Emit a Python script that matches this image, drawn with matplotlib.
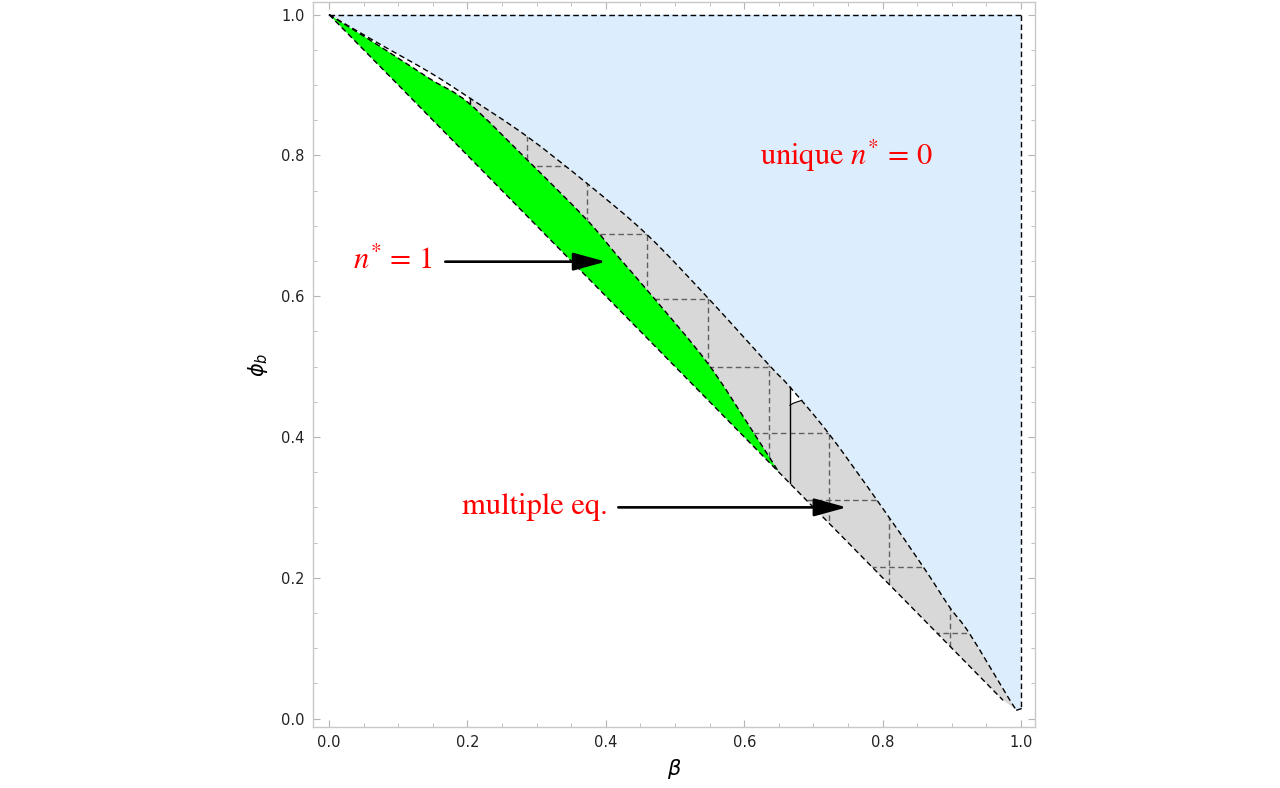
import numpy as np
import matplotlib
matplotlib.use("Agg")
import matplotlib.pyplot as plt
from matplotlib.path import Path
from matplotlib.patches import PathPatch

# upper boundary of the grey band = lower edge of the blue region
upper_beta = [0.0, 0.070, 0.147, 0.204, 0.286, 0.373, 0.460, 0.548, 0.636,
              0.666, 0.722, 0.792, 0.859, 0.897, 0.926, 0.984, 0.994]
upper_phi = [1.0, 0.960, 0.917, 0.881, 0.827, 0.760, 0.687, 0.597, 0.502,
             0.471, 0.405, 0.310, 0.215, 0.158, 0.120, 0.026, 0.012]

# upper edge of the green lens (n* = 1)
green_beta = [0.0, 0.075, 0.147, 0.201, 0.286, 0.373, 0.417, 0.468, 0.547, 0.609, 0.650]
green_phi = [1.0, 0.954, 0.908, 0.875, 0.794, 0.708, 0.657, 0.599, 0.505, 0.413, 0.350]

# lower dashed boundary
lower_beta = [0.0, 0.356, 0.650, 0.811, 0.974]
lower_phi = [1.0, 0.644, 0.350, 0.189, 0.026]

# mesh lines inside the grey band
mesh_beta = [0.286, 0.373, 0.460, 0.548, 0.636, 0.723, 0.809, 0.897]
mesh_phi = [0.785, 0.689, 0.596, 0.500, 0.405, 0.310, 0.215, 0.121]

# short solid separators
sep_beta = [0.204, 0.666]
sep_top = [0.881, 0.471]
sep_bottom = [0.875, 0.334]

# small white notch next to the beta = 2/3 separator
notch_beta = [0.666, 0.666, 0.671, 0.683]
notch_phi = [0.471, 0.445, 0.448, 0.452]

# labels and arrows
label_text = [r'$n^{*}$ = 1', 'multiple eq.', r'unique $n^{*}$ = 0']
label_beta = [0.150, 0.403, 0.623]
label_phi = [0.638, 0.290, 0.786]
label_ha = ['right', 'right', 'left']
arrow_start = [(0.168, 0.649), (0.418, 0.300)]
arrow_end = [(0.400, 0.649), (0.748, 0.300)]

plt.rcParams['mathtext.fontset'] = 'stix'


def smooth_segments(xs, ys):
    """cubic bezier pieces through the points (catmull-rom), no extra data"""
    pts = np.column_stack([xs, ys]).astype(float)
    n = len(pts)
    verts = []
    for i in range(n - 1):
        p0 = pts[max(i - 1, 0)]
        p1 = pts[i]
        p2 = pts[i + 1]
        p3 = pts[min(i + 2, n - 1)]
        verts += [p1 + (p2 - p0) / 6.0, p2 - (p3 - p1) / 6.0, p2]
    return verts


def build_path(pieces, close=True):
    """pieces: list of (xs, ys, smooth)"""
    verts, codes = [], []
    for k, (xs, ys, smooth) in enumerate(pieces):
        first = (xs[0], ys[0])
        verts.append(first)
        codes.append(Path.MOVETO if k == 0 else Path.LINETO)
        if smooth and len(xs) > 2:
            seg = smooth_segments(xs, ys)
            verts += [tuple(v) for v in seg]
            codes += [Path.CURVE4] * len(seg)
        else:
            for x, y in zip(xs[1:], ys[1:]):
                verts.append((x, y))
                codes.append(Path.LINETO)
    if close:
        verts.append(verts[0])
        codes.append(Path.CLOSEPOLY)
    return Path(verts, codes)


fig = plt.figure(figsize=(12.8, 7.88), dpi=100)
ax = fig.add_axes([0.2443, 0.0774, 0.5643, 0.920])

BLUE = '#DCEDFD'
GREY = '#D8D8D8'
GREEN = '#00FF00'
dash = (0, (4, 2.5))

ub = np.array(upper_beta)
up = np.array(upper_phi)
gb = np.array(green_beta)
gp = np.array(green_phi)
lb = np.array(lower_beta)
lp = np.array(lower_phi)

# blue region: above the upper curve, inside the unit square
blue_path = build_path([([0.0, 1.0, 1.0], [1.0, 1.0, 0.014], False),
                        (ub[::-1], up[::-1], True)])
ax.add_patch(PathPatch(blue_path, facecolor=BLUE, edgecolor='none', zorder=1))

# grey band: between the upper curve and the green edge / lower line
sel_u = ub >= 0.204
sel_l = lb >= 0.650
sel_g = gb >= 0.201
grey_path = build_path([(ub[sel_u], up[sel_u], True),
                        (lb[sel_l][::-1], lp[sel_l][::-1], False),
                        (gb[sel_g][::-1], gp[sel_g][::-1], True)])
grey_patch = PathPatch(grey_path, facecolor=GREY, edgecolor='none', zorder=2)
ax.add_patch(grey_patch)

# green lens
sel_lg = lb <= 0.650
green_path = build_path([(gb, gp, True),
                         (lb[sel_lg][::-1], lp[sel_lg][::-1], False)])
ax.add_patch(PathPatch(green_path, facecolor=GREEN, edgecolor='none', zorder=3))

# notch
notch_path = build_path([(notch_beta, notch_phi, False)])
ax.add_patch(PathPatch(notch_path, facecolor='white', edgecolor='none', zorder=3))
ax.plot(notch_beta[1:], notch_phi[1:], color='black', lw=0.8, zorder=6)

# mesh lines clipped to the grey band
for b in mesh_beta:
    ln, = ax.plot([b, b], [0, 1], color='#606060', lw=1.0, ls=dash, zorder=4)
    ln.set_clip_path(grey_patch)
for p in mesh_phi:
    ln, = ax.plot([0, 1], [p, p], color='#606060', lw=1.0, ls=dash, zorder=4)
    ln.set_clip_path(grey_patch)

# boundaries
for xs, ys in [(ub, up), (gb, gp)]:
    ax.add_patch(PathPatch(build_path([(xs, ys, True)], close=False), facecolor='none',
                           edgecolor='black', lw=1.0, ls=dash, zorder=5))
ax.plot(lower_beta, lower_phi, color='black', lw=1.0, ls=dash, zorder=5)
ax.plot([0.0, 1.0], [1.0, 1.0], color='black', lw=1.0, ls=dash, zorder=5)
ax.plot([1.0, 1.0], [1.0, 0.014], color='black', lw=1.0, ls=dash, zorder=5)
ax.plot([0.994, 1.0], [0.012, 0.014], color='black', lw=1.0, zorder=5)

for b, t, bt in zip(sep_beta, sep_top, sep_bottom):
    ax.plot([b, b], [t, bt], color='black', lw=1.0, zorder=6)

# annotations
for txt, x, y, ha in zip(label_text, label_beta, label_phi, label_ha):
    ax.text(x, y, txt, color='red', fontsize=22, family='STIXGeneral',
            ha=ha, va='baseline', zorder=8)
for s, e in zip(arrow_start, arrow_end):
    ax.annotate('', xy=e, xytext=s, zorder=8,
                arrowprops=dict(arrowstyle='-|>,head_length=2.0,head_width=0.55',
                                color='black', lw=1.9, shrinkA=0, shrinkB=0))

ax.set_xlim(-0.0236, 1.0202)
ax.set_ylim(-0.012, 1.0178)

ax.set_xticks(np.arange(0, 1.01, 0.2))
ax.set_yticks(np.arange(0, 1.01, 0.2))
ax.set_xticks(np.arange(0, 1.01, 0.05), minor=True)
ax.set_yticks(np.arange(0, 1.01, 0.05), minor=True)
ax.xaxis.set_major_formatter(matplotlib.ticker.FormatStrFormatter('%.1f'))
ax.yaxis.set_major_formatter(matplotlib.ticker.FormatStrFormatter('%.1f'))
ax.tick_params(which='both', direction='in', top=True, right=True,
               color='#b5b5b5', labelcolor='#222222', labelsize=10.5)
ax.tick_params(which='major', length=5, width=0.8, pad=6)
ax.tick_params(which='minor', length=3, width=0.6)
for sp in ax.spines.values():
    sp.set_color('#c8c8c8')
    sp.set_linewidth(1.0)

ax.set_xlabel(r'$\beta$', fontsize=15, labelpad=5, math_fontfamily='dejavusans')
ax.set_ylabel(r'$\phi_b$', fontsize=15, labelpad=8, math_fontfamily='dejavusans')

fig.savefig('out.png', dpi=100)
